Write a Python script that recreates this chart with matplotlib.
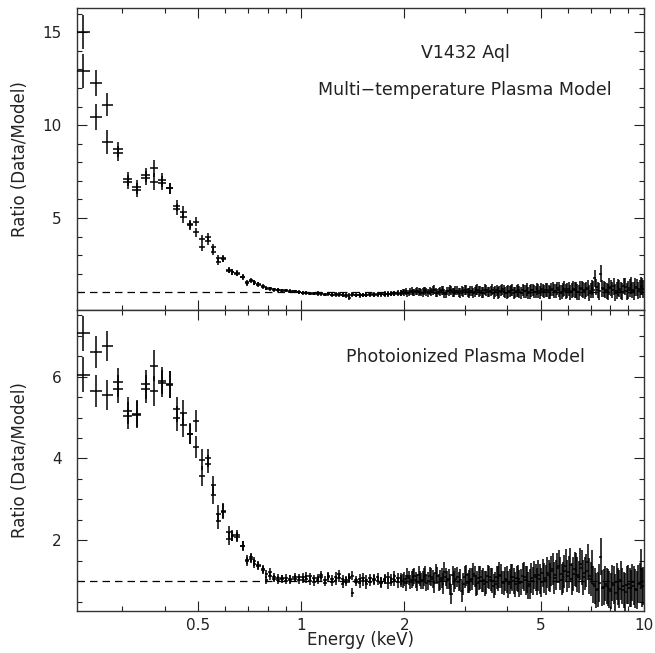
import numpy as np
import matplotlib
matplotlib.use("Agg")
import matplotlib.pyplot as plt
from matplotlib.ticker import FixedLocator, FixedFormatter, NullFormatter

# ---------------- data ----------------
E_low = [0.2307, 0.251, 0.271, 0.292, 0.312, 0.330, 0.3516, 0.371, 0.391, 0.413,
         0.432, 0.452, 0.473, 0.492, 0.512, 0.535, 0.553, 0.572, 0.592, 0.614,
         0.628, 0.647, 0.674, 0.692, 0.711, 0.729, 0.749, 0.774]

# 0.78 - 2 keV bins (shared by both data sets)
E_mid = [0.787, 0.809, 0.832, 0.855, 0.879, 0.904, 0.929, 0.955, 0.982,
         1.01, 1.035, 1.06, 1.09, 1.115, 1.14, 1.17, 1.2, 1.23, 1.26,
         1.29, 1.32, 1.35, 1.38, 1.41, 1.445, 1.48, 1.515, 1.55, 1.59,
         1.63, 1.67, 1.71, 1.75, 1.79, 1.83, 1.87, 1.915, 1.96]

# 2 - 10 keV bins, data set a
E_high_a = [2.0, 2.04, 2.08, 2.12, 2.16, 2.2, 2.24, 2.28, 2.32, 2.37,
            2.42, 2.47, 2.52, 2.57, 2.62, 2.67, 2.72, 2.77, 2.82, 2.88,
            2.94, 3.0, 3.06, 3.12, 3.18, 3.24, 3.3, 3.37, 3.44, 3.51,
            3.58, 3.65, 3.72, 3.79, 3.86, 3.94, 4.02, 4.1, 4.18, 4.26,
            4.34, 4.43, 4.52, 4.61, 4.7, 4.79, 4.88, 4.98, 5.08, 5.18,
            5.28, 5.38, 5.49, 5.6, 5.71, 5.82, 5.93, 6.05, 6.17, 6.29,
            6.41, 6.54, 6.67, 6.8, 6.93, 7.07, 7.21, 7.35, 7.5, 7.65,
            7.8, 7.95, 8.1, 8.26, 8.42, 8.58, 8.75, 8.92, 9.1, 9.28,
            9.46, 9.65, 9.84, 9.98]
# 2 - 10 keV bins, data set b
E_high_b = [1.98, 2.02, 2.06, 2.10, 2.14, 2.18, 2.22, 2.26, 2.30, 2.345,
            2.395, 2.445, 2.495, 2.545, 2.595, 2.645, 2.695, 2.745, 2.795, 2.85,
            2.91, 2.97, 3.03, 3.09, 3.15, 3.21, 3.27, 3.335, 3.405, 3.475,
            3.545, 3.615, 3.685, 3.755, 3.825, 3.9, 3.98, 4.06, 4.14, 4.22,
            4.3, 4.385, 4.475, 4.565, 4.655, 4.745, 4.835, 4.93, 5.03, 5.13,
            5.23, 5.33, 5.435, 5.545, 5.655, 5.765, 5.875, 5.99, 6.11, 6.23,
            6.35, 6.475, 6.605, 6.735, 6.865, 7.0, 7.14, 7.28, 7.425, 7.575,
            7.725, 7.875, 8.025, 8.18, 8.34, 8.5, 8.665, 8.835, 9.01, 9.19,
            9.37, 9.555, 9.745, 9.91]

# top panel: multi-temperature plasma model, two data sets (a, b)
top_a_low = [15.0, 12.24, 11.1, 8.7, 7.1, 6.65, 7.3, 7.67, 7.05, 6.6,
             5.66, 5.32, 4.66, 4.8, 3.85, 3.96, 3.42, 2.83, 2.83, 2.17,
             2.1, 2.04, 1.85, 1.49, 1.67, 1.54, 1.45, 1.34]
top_b_low = [12.9, 10.45, 9.1, 8.48, 6.95, 6.5, 7.13, 6.95, 6.9, 6.6,
             5.47, 5.04, 4.6, 4.23, 3.46, 3.78, 3.19, 2.65, 2.8, 2.2,
             2.08, 2.0, 1.82, 1.55, 1.6, 1.52, 1.42, 1.3]
top_err_low = [0.9, 0.7, 0.63, 0.4, 0.38, 0.38, 0.38, 0.45, 0.38, 0.3,
               0.3, 0.3, 0.25, 0.25, 0.22, 0.22, 0.2, 0.18, 0.18, 0.15,
               0.15, 0.14, 0.13, 0.13, 0.12, 0.12, 0.11, 0.11]

top_a_dense = [1.24, 1.18, 1.16, 1.13, 1.10, 1.09, 1.07, 1.05, 1.02,
               0.98, 0.97, 0.95, 0.93, 0.96, 0.92, 0.90, 0.93, 0.88, 0.87,
               0.90, 0.85, 0.88, 0.84, 0.89, 0.86, 0.83, 0.88, 0.86, 0.90,
               0.87, 0.91, 0.89, 0.93, 0.90, 0.94, 0.92, 0.97, 0.95,
               0.99, 0.96, 1.03, 0.98, 1.05, 1.01, 0.97, 1.08, 1.02, 1.06,
               1.10, 0.98, 1.04, 1.12, 0.95, 1.07, 1.15, 1.01, 1.09, 0.97,
               1.06, 1.13, 1.00, 1.08, 0.94, 1.11, 1.04, 0.99, 1.14, 1.02,
               1.07, 0.96, 1.10, 1.03, 1.16, 0.98, 1.05, 1.12, 0.95, 1.08,
               1.01, 1.14, 1.06, 0.97, 1.11, 1.04, 1.18, 0.99, 1.09, 1.13,
               1.02, 1.15, 1.07, 1.21, 0.98, 1.12, 1.05, 1.19, 1.08, 1.14,
               1.03, 1.22, 1.10, 1.16, 0.97, 1.25, 1.75, 1.12, 2.00, 1.18,
               1.06, 1.30, 1.14, 0.99, 1.27, 1.09, 1.35, 1.05, 1.22, 1.12,
               1.28, 1.08, 1.33, 1.19]
top_b_dense = [1.20, 1.21, 1.12, 1.14, 1.08, 1.10, 1.04, 1.06, 1.00,
               0.96, 0.99, 0.93, 0.95, 0.91, 0.94, 0.88, 0.91, 0.86, 0.89,
               0.84, 0.87, 0.82, 0.70, 0.85, 0.83, 0.87, 0.84, 0.88, 0.85,
               0.89, 0.87, 0.91, 0.88, 0.92, 0.90, 0.95, 0.93, 0.96,
               1.02, 1.05, 0.97, 1.07, 1.00, 1.09, 1.04, 0.99, 1.11, 0.98,
               1.03, 1.13, 0.96, 1.06, 1.10, 0.92, 1.05, 1.12, 0.99, 1.08,
               0.98, 1.04, 1.12, 0.96, 1.09, 1.02, 1.15, 1.06, 0.97, 1.10,
               1.01, 1.13, 1.04, 0.95, 1.09, 1.07, 0.99, 1.03, 1.14, 1.00,
               1.10, 0.98, 1.05, 1.15, 1.02, 1.12, 1.00, 1.08, 1.16, 1.04,
               1.11, 0.99, 1.17, 1.06, 1.13, 1.03, 1.20, 1.09, 1.01, 1.18,
               1.12, 1.00, 1.20, 1.07, 1.24, 1.09, 1.15, 1.31, 1.06, 1.21,
               1.15, 1.02, 1.24, 1.33, 1.08, 1.20, 1.04, 1.29, 1.11, 1.38,
               1.07, 1.25, 1.16, 1.30]

# bottom panel: photoionized plasma model
bot_a_low = [7.06, 6.61, 6.75, 5.86, 5.17, 5.09, 5.81, 6.27, 5.90, 5.82,
             5.20, 5.12, 4.61, 4.92, 3.97, 4.02, 3.35, 2.65, 2.72, 2.20,
             2.12, 2.12, 1.87, 1.49, 1.59, 1.49, 1.40, 1.30]
bot_b_low = [6.05, 5.66, 5.55, 5.70, 5.04, 5.07, 5.70, 5.65, 5.84, 5.80,
             4.98, 4.82, 4.60, 4.28, 3.57, 3.86, 3.10, 2.47, 2.70, 2.04,
             2.10, 2.08, 1.85, 1.52, 1.55, 1.43, 1.38, 1.27]
bot_err_low = [0.43, 0.39, 0.37, 0.35, 0.33, 0.33, 0.35, 0.37, 0.33, 0.33,
               0.3, 0.3, 0.25, 0.27, 0.25, 0.22, 0.22, 0.2, 0.18, 0.15,
               0.13, 0.13, 0.12, 0.11, 0.11, 0.11, 0.1, 0.1]

bot_a_dense = [1.18, 1.22, 1.10, 1.07, 1.05, 1.08, 1.04, 1.06, 1.09,
               1.10, 1.06, 1.12, 0.98, 1.08, 1.15, 1.03, 1.09, 0.97, 1.11,
               1.18, 1.05, 0.99, 1.07, 1.13, 1.02, 0.95, 1.08, 1.04, 0.98,
               1.06, 1.01, 0.96, 1.05, 1.10, 0.99, 1.03, 1.08, 1.00,
               1.06, 1.12, 0.98, 1.09, 1.03, 1.15, 1.01, 1.10, 0.95, 1.13,
               1.05, 1.19, 0.97, 1.08, 1.22, 1.02, 0.92, 1.14, 1.06, 0.99,
               0.75, 1.10, 0.96, 1.04, 1.17, 0.90, 1.08, 1.01, 0.94, 1.12,
               1.03, 0.88, 1.09, 1.15, 0.97, 1.05, 0.92, 1.11, 1.00, 1.07,
               0.95, 1.13, 1.02, 0.89, 1.08, 1.16, 0.99, 1.06, 1.20, 1.03,
               1.14, 1.25, 1.08, 1.32, 1.18, 1.10, 1.38, 1.22, 1.05, 1.30,
               1.16, 1.42, 1.09, 1.26, 1.12, 1.35, 0.88, 0.80, 1.60, 0.85,
               0.88, 0.80, 0.95, 0.72, 0.86, 1.02, 0.78, 0.91, 0.84, 0.97,
               0.82, 0.93, 1.30, 0.88]
bot_b_dense = [1.02, 1.12, 1.06, 1.03, 1.07, 1.01, 1.05, 1.10, 1.03,
               1.04, 1.13, 1.00, 1.07, 1.02, 1.10, 0.96, 1.12, 1.06, 1.01,
               1.08, 0.94, 1.03, 1.09, 0.72, 0.97, 1.05, 1.00, 0.93, 1.07,
               1.02, 1.09, 0.98, 1.04, 0.95, 1.06, 1.12, 0.97, 1.05,
               1.01, 0.95, 1.08, 1.04, 1.12, 0.97, 1.07, 1.02, 1.16, 1.00,
               1.09, 0.96, 1.13, 1.03, 0.94, 1.11, 1.05, 0.68, 1.00, 1.10,
               1.04, 0.93, 1.14, 0.99, 1.06, 1.12, 0.95, 1.09, 1.03, 0.97,
               1.10, 1.01, 0.94, 1.07, 1.13, 0.96, 1.04, 0.99, 1.09, 0.92,
               1.06, 0.98, 1.11, 1.04, 0.93, 1.01, 1.10, 1.14, 0.97, 1.08,
               1.21, 1.09, 1.29, 1.15, 1.36, 1.04, 1.24, 1.12, 1.40, 1.18,
               1.27, 1.10, 1.33, 1.19, 1.48, 1.05, 0.92, 0.78, 0.95, 0.83,
               0.94, 0.85, 0.77, 0.90, 0.99, 0.81, 0.87, 0.74, 0.92, 0.83,
               0.89, 0.79, 0.95, 0.85]

err_dense = [0.10, 0.10, 0.09, 0.10, 0.09, 0.09, 0.10, 0.09, 0.09,
             0.09, 0.10, 0.09, 0.09, 0.10, 0.10, 0.09, 0.10, 0.10, 0.11,
             0.10, 0.11, 0.10, 0.11, 0.11, 0.10, 0.12, 0.11, 0.12, 0.11,
             0.12, 0.11, 0.13, 0.12, 0.13, 0.12, 0.14, 0.13, 0.15,
             0.17, 0.19, 0.18, 0.20, 0.19, 0.21, 0.19, 0.22, 0.20, 0.22,
             0.22, 0.24, 0.21, 0.24, 0.25, 0.22, 0.25, 0.24, 0.26, 0.24,
             0.26, 0.27, 0.25, 0.28, 0.27, 0.26, 0.29, 0.27, 0.30, 0.28,
             0.28, 0.30, 0.29, 0.31, 0.29, 0.30, 0.33, 0.30, 0.32, 0.31,
             0.33, 0.32, 0.35, 0.33, 0.36, 0.34, 0.33, 0.37, 0.35, 0.36,
             0.37, 0.36, 0.39, 0.37, 0.40, 0.38, 0.41, 0.39, 0.40, 0.42,
             0.42, 0.40, 0.43, 0.41, 0.44, 0.42, 0.45, 0.43, 0.46, 0.44,
             0.43, 0.45, 0.44, 0.46, 0.45, 0.47, 0.44, 0.46, 0.48, 0.45,
             0.47, 0.46, 0.49, 0.47]

x_major = [0.5, 1, 2, 5, 10]
x_major_labels = ["0.5", "1", "2", "5", "10"]
x_minor = [0.3, 0.4, 0.6, 0.7, 0.8, 0.9, 3, 4, 6, 7, 8, 9]

texts_top = ["V1432 Aql", "Multi\u2212temperature Plasma Model"]
text_bot = "Photoionized Plasma Model"

# ---------------- assemble ----------------
energy_a = np.array(E_low + E_mid + E_high_a)
energy_b = np.array(E_low + E_mid + E_high_b)
for arr in (top_a_dense, top_b_dense, bot_a_dense, bot_b_dense, err_dense):
    assert len(arr) == len(E_mid) + len(E_high_a), len(arr)
assert len(E_high_a) == len(E_high_b)


def bin_xerr(energy):
    logE = np.log10(energy)
    mids = 0.5 * (logE[1:] + logE[:-1])
    lo = np.concatenate([[logE[0] - (mids[0] - logE[0])], mids])
    hi = np.concatenate([mids, [logE[-1] + (logE[-1] - mids[-1])]])
    return np.vstack([energy - 10 ** lo, 10 ** hi - energy])


xerr_a = bin_xerr(energy_a)
xerr_b = bin_xerr(energy_b)

top_a = np.array(top_a_low + top_a_dense)
top_b = np.array(top_b_low + top_b_dense)
bot_a = np.array(bot_a_low + bot_a_dense)
bot_b = np.array(bot_b_low + bot_b_dense)
err_top = np.array(top_err_low + err_dense)
err_bot = np.array(bot_err_low + err_dense)

# ---------------- figure ----------------
plt.rcParams['font.family'] = ['DejaVu Sans']
fig = plt.figure(figsize=(6.55, 6.53), dpi=100)
ax1 = fig.add_axes([0.1176, 0.5253, 0.8649, 0.4624])
ax2 = fig.add_axes([0.1176, 0.0643, 0.8649, 0.4610])

txt_color = '#222222'
ekw = dict(fmt='none', ecolor='black', elinewidth=1.1, capsize=0, zorder=3)
for ax, a, b, e in ((ax1, top_a, top_b, err_top), (ax2, bot_a, bot_b, err_bot)):
    ax.axhline(1.0, color='black', lw=0.9, ls=(0, (6, 4)), zorder=2)
    ax.errorbar(energy_a, a, xerr=xerr_a, yerr=e, **ekw)
    ax.errorbar(energy_b, b, xerr=xerr_b, yerr=e, **ekw)
    ax.set_xscale('log')
    ax.set_xlim(0.221, 10.0)
    ax.xaxis.set_major_locator(FixedLocator(x_major))
    ax.xaxis.set_major_formatter(FixedFormatter(x_major_labels))
    ax.xaxis.set_minor_locator(FixedLocator(x_minor))
    ax.xaxis.set_minor_formatter(NullFormatter())
    ax.tick_params(which='both', direction='in', top=True, right=True,
                   width=0.8, colors='#222222', labelsize=11)
    ax.tick_params(which='major', length=7)
    ax.tick_params(which='minor', length=3.5)
    ax.tick_params(axis='y', pad=11)
    ax.tick_params(axis='x', pad=5)
    for s in ax.spines.values():
        s.set_linewidth(1.0)
        s.set_color('#333333')

ax1.set_ylim(0.05, 16.3)
ax1.set_yticks([5, 10, 15])
ax1.set_yticks(np.arange(1, 17), minor=True)
ax1.tick_params(labelbottom=False)

ax2.set_ylim(0.27, 7.63)
ax2.set_yticks([2, 4, 6])
ax2.set_yticks(np.arange(0.5, 7.6, 0.5), minor=True)

ax1.text(0.685, 0.851, texts_top[0], transform=ax1.transAxes, ha='center',
         va='center', fontsize=12.5, color=txt_color)
ax1.text(0.685, 0.728, texts_top[1], transform=ax1.transAxes, ha='center',
         va='center', fontsize=12.5, color=txt_color)
ax2.text(0.685, 0.844, text_bot, transform=ax2.transAxes, ha='center',
         va='center', fontsize=12.5, color=txt_color)

fig.text(20 / 655, 1 - 159 / 653, "Ratio (Data/Model)", rotation=90,
         ha='center', va='center', fontsize=12, color=txt_color)
fig.text(20 / 655, 1 - 460 / 653, "Ratio (Data/Model)", rotation=90,
         ha='center', va='center', fontsize=12, color=txt_color)
ax2.set_xlabel("Energy (keV)", fontsize=12, color=txt_color)
ax2.xaxis.set_label_coords(0.5, -0.068)

fig.savefig("out.png", dpi=100)
